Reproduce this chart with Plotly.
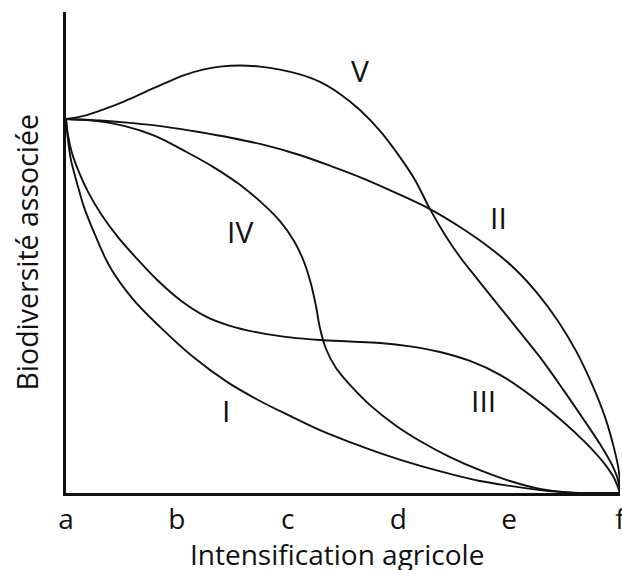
import plotly.graph_objects as go

# x: intensification level (a=0 ... f=5), y: associated biodiversity (start level = 100)
tick_labels = ["a", "b", "c", "d", "e", "f"]
tick_pos = [0, 1, 2, 3, 4, 5]

x_I = [0, 0.018, 0.045, 0.099, 0.162, 0.244, 0.397, 0.596, 0.848, 1.146, 1.453, 1.751,
       2.022, 2.292, 2.563, 2.861, 3.168, 3.466, 3.736, 4.007, 4.278, 4.576, 5.0]
y_I = [100, 94.4, 89.0, 82.9, 76.5, 70.3, 60.4, 52.1, 44.4, 36.4, 29.7, 24.6,
       20.6, 16.8, 13.6, 10.4, 7.5, 5.1, 3.2, 1.9, 0.8, 0.1, 0.0]

x_II = [0, 0.307, 0.605, 0.903, 1.200, 1.498, 1.796, 2.094, 2.392, 2.690, 2.987, 3.285,
        3.556, 3.827, 4.052, 4.260, 4.440, 4.603, 4.747, 4.865, 4.946, 4.991, 5.0]
y_II = [100, 99.6, 98.9, 97.9, 96.5, 94.9, 93.0, 90.5, 87.4, 84.0, 80.1, 75.9,
        71.1, 65.5, 59.9, 53.2, 46.0, 38.0, 29.1, 20.3, 12.0, 5.6, 0.0]

x_III = [0, 0.018, 0.054, 0.117, 0.199, 0.316, 0.469, 0.641, 0.821, 1.029, 1.255, 1.480,
         1.751, 2.022, 2.292, 2.563, 2.834, 3.105, 3.375, 3.646, 3.917, 4.188, 4.458,
         4.684, 4.847, 4.946, 5.0]
y_III = [100, 95.7, 90.9, 85.8, 80.5, 74.6, 68.4, 62.6, 57.0, 51.6, 47.3, 44.7,
         42.8, 41.6, 40.9, 40.5, 40.1, 39.2, 37.7, 35.3, 31.6, 26.2, 19.8,
         13.6, 8.3, 4.0, 0.0]

x_IV = [0, 0.262, 0.532, 0.803, 1.074, 1.327, 1.570, 1.769, 1.931, 2.058, 2.148, 2.211,
        2.256, 2.292, 2.347, 2.437, 2.563, 2.744, 2.969, 3.195, 3.466, 3.736, 4.007,
        4.278, 4.549, 5.0]
y_IV = [100, 99.5, 98.1, 95.5, 91.4, 87.2, 82.4, 77.5, 72.7, 67.4, 61.8, 55.9,
        50.0, 44.1, 38.5, 33.4, 28.9, 23.5, 18.2, 13.9, 9.6, 6.1, 3.2,
        1.1, 0.1, 0.0]

x_V = [0, 0.171, 0.352, 0.532, 0.713, 0.894, 1.074, 1.236, 1.390, 1.570, 1.751, 1.931,
       2.112, 2.292, 2.473, 2.653, 2.834, 3.014, 3.150, 3.285, 3.421, 3.556, 3.718,
       3.899, 4.097, 4.296, 4.495, 4.675, 4.819, 4.928, 4.982, 5.0]
y_V = [100, 100.9, 102.7, 104.8, 107.2, 109.6, 111.8, 113.2, 114.0, 114.3, 114.0, 113.2,
       111.9, 109.9, 106.7, 102.4, 96.8, 89.8, 83.7, 75.9, 69.0, 63.1, 57.0,
       50.3, 43.0, 35.6, 27.3, 19.5, 13.1, 7.5, 3.5, 0.0]

curve_names = ["I", "II", "III", "IV", "V"]
label_x = [1.444, 3.899, 3.764, 1.570, 2.653]
label_y = [21.4, 73.0, 24.3, 69.5, 112.3]

series = [(x_I, y_I), (x_II, y_II), (x_III, y_III), (x_IV, y_IV), (x_V, y_V)]

FONT = "'Open Sans', 'Noto Sans', sans-serif"
INK = "#111111"
fig = go.Figure()
for name, (xs, ys) in zip(curve_names, series):
    fig.add_trace(go.Scatter(x=xs, y=ys, mode="lines", name=name,
                             line=dict(color=INK, width=1.9, shape="spline", smoothing=1.0),
                             showlegend=False, hoverinfo="skip", cliponaxis=False))

for name, lx, ly in zip(curve_names, label_x, label_y):
    fig.add_annotation(x=lx, y=ly, text=name, showarrow=False, yshift=2,
                       font=dict(family=FONT, size=30, color=INK))

fig.add_annotation(xref="paper", yref="paper", x=-0.072, y=0.5, text="Biodiversité associée",
                   textangle=-90, showarrow=False, xanchor="center", yanchor="middle",
                   font=dict(family=FONT, size=28.5, color=INK))
fig.add_annotation(xref="paper", yref="paper", x=0.49, y=-0.127, text="Intensification agricole",
                   showarrow=False, xanchor="center", yanchor="middle",
                   font=dict(family=FONT, size=28, color=INK))

fig.update_xaxes(range=[0, 5], showline=True, linecolor=INK, linewidth=2.5,
                 showgrid=False, zeroline=False, tickvals=tick_pos, ticktext=tick_labels,
                 ticks="", ticklen=0, ticklabeloverflow="allow",
                 tickfont=dict(family=FONT, size=28, color=INK),
                 fixedrange=True, automargin=False)
fig.update_yaxes(range=[0, 128.6], showline=True, linecolor=INK, linewidth=2.5,
                 showgrid=False, zeroline=False, showticklabels=False, ticks="",
                 fixedrange=True, automargin=False)
fig.update_layout(width=622, height=570, margin=dict(l=66, r=2, t=12, b=77),
                  plot_bgcolor="white", paper_bgcolor="white")
# remove the browser's default 8px page margin so the figure fills the window exactly
fig.write_html("out.html", config={"displayModeBar": False},
               post_script="document.body.style.margin='0';"
                           "document.documentElement.style.overflow='hidden';")
